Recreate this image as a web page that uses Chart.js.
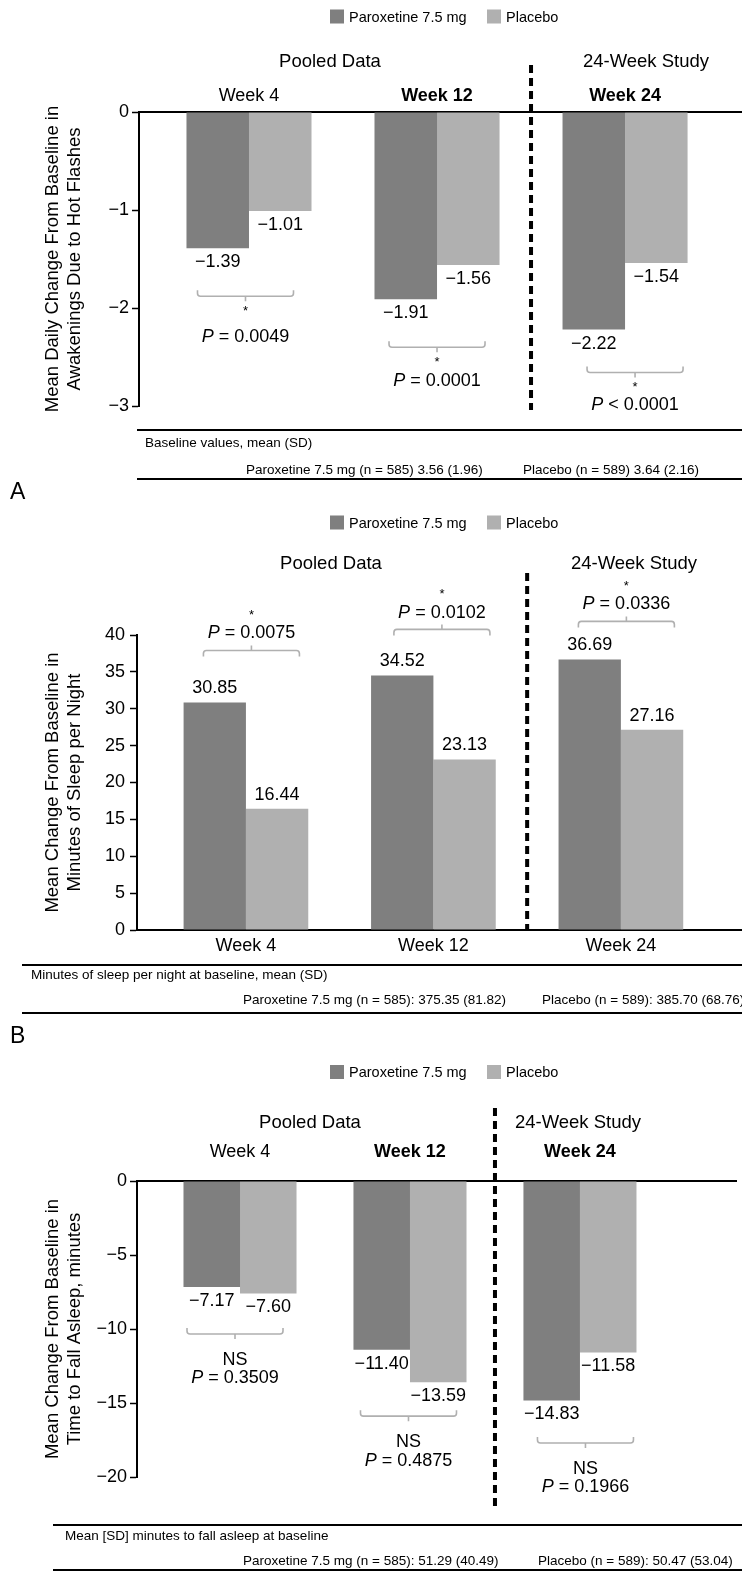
<!DOCTYPE html>
<html lang="en">
<head>
  <meta charset="UTF-8">
  <title>Paroxetine 7.5 mg vs Placebo – sleep outcomes</title>
  <style>
    body { margin: 0; background: #fff; }
    .panel { position: absolute; left: 0; width: 742px; }
    canvas { display: block; }
  </style>
</head>
<body>
<div class="panel" style="top:0"><canvas id="chartA" width="742" height="505"></canvas></div>
<div class="panel" style="top:505px"><canvas id="chartB" width="742" height="545"></canvas></div>
<div class="panel" style="top:1050px"><canvas id="chartC" width="742" height="521"></canvas></div>

<script src="https://cdn.jsdelivr.net/npm/chart.js"></script>
<script>
  // shared categories
  const weeks = ['Week 4', 'Week 12', 'Week 24'];
  const weekPos = [1, 2, 3];
  const seriesNames = ['Paroxetine 7.5 mg', 'Placebo'];

  // A - awakenings due to hot flashes
  const paroxAwake = [-1.39, -1.91, -2.22];
  const placeboAwake = [-1.01, -1.56, -1.54];
  const pAwake = ['= 0.0049', '= 0.0001', '< 0.0001'];
  const baselineAwake = ['Paroxetine 7.5 mg (n = 585) 3.56 (1.96)', 'Placebo (n = 589) 3.64 (2.16)'];

  // B - minutes of sleep per night
  const paroxSleep = [30.85, 34.52, 36.69];
  const placeboSleep = [16.44, 23.13, 27.16];
  const pSleep = ['= 0.0075', '= 0.0102', '= 0.0336'];
  const baselineSleep = ['Paroxetine 7.5 mg (n = 585): 375.35 (81.82)', 'Placebo (n = 589): 385.70 (68.76)'];

  // C - time to fall asleep
  const paroxLatency = [-7.17, -11.40, -14.83];
  const placeboLatency = [-7.60, -13.59, -11.58];
  const pLatency = ['= 0.3509', '= 0.4875', '= 0.1966'];
  const baselineLatency = ['Paroxetine 7.5 mg (n = 585): 51.29 (40.49)', 'Placebo (n = 589): 50.47 (53.04)'];

  const FONT = '"Liberation Sans", Arial, sans-serif';
  const DARK = '#7f7f7f', LIGHT = '#b0b0b0', BRACKET = '#b0b0b0';

  Chart.defaults.font.family = FONT;
  Chart.defaults.color = '#000';
  Chart.defaults.animation = false;
  Chart.defaults.plugins.legend.display = false;
  Chart.defaults.plugins.tooltip.enabled = false;

  const px = (size, style) => (style ? style + ' ' : '') + size + 'px ' + FONT;
  const fmt = v => (v < 0 ? '\u2212' + Math.abs(v).toFixed(2) : v.toFixed(2));

  // "P = 0.0049" with italic P, centred on cx
  function drawP(ctx, rest, cx, cy) {
    ctx.font = px(18, 'italic');
    const wP = ctx.measureText('P').width;
    ctx.font = px(18);
    const wR = ctx.measureText(' ' + rest).width;
    const x0 = cx - (wP + wR) / 2;
    ctx.textAlign = 'left';
    ctx.font = px(18, 'italic');
    ctx.fillText('P', x0, cy);
    ctx.font = px(18);
    ctx.fillText(' ' + rest, x0 + wP, cy);
  }

  const decor = {
    id: 'decor',
    afterDraw(chart, args, o) {
      const ctx = chart.ctx;
      const xs = chart.scales.x;
      ctx.save();
      ctx.textBaseline = 'middle';

      // legend
      [330, 487].forEach((lx, i) => {
        ctx.fillStyle = i ? LIGHT : DARK;
        ctx.fillRect(lx, o.legendY - 7, 14, 14);
        ctx.fillStyle = '#000';
        ctx.font = px(14.5);
        ctx.textAlign = 'left';
        ctx.fillText(seriesNames[i], lx + 19, o.legendY + 1);
      });

      // group headings
      ctx.font = px(18.5);
      ctx.textAlign = 'center';
      o.groups.forEach(g => ctx.fillText(g[2], g[0], g[1]));

      // separator between pooled data and 24-week study
      const sx = xs.getPixelForValue(2.5);
      ctx.strokeStyle = '#000';
      ctx.lineWidth = 4;
      ctx.setLineDash([8, 5]);
      ctx.beginPath();
      ctx.moveTo(sx, o.dashTop);
      ctx.lineTo(sx, o.dashBottom);
      ctx.stroke();
      ctx.setLineDash([]);

      // value labels
      ctx.font = px(18);
      ctx.textAlign = 'center';
      ctx.fillStyle = '#000';
      chart.data.datasets.forEach((ds, d) => {
        chart.getDatasetMeta(d).data.forEach((bar, i) => {
          const v = ds.data[i].y;
          ctx.fillText(fmt(v), bar.x, v < 0 ? bar.y + o.labelGap : bar.y - o.labelGap);
        });
      });

      // brackets + significance
      const dir = o.up ? -1 : 1;
      weekPos.forEach((wp, i) => {
        const bars = [0, 1].map(d => chart.getDatasetMeta(d).data[i]);
        const cx = xs.getPixelForValue(wp) + o.dx[i];
        const edge = o.up ? Math.min(bars[0].y, bars[1].y) : Math.max(bars[0].y, bars[1].y);
        const bl = edge + dir * o.gap[i];
        ctx.strokeStyle = BRACKET;
        ctx.lineWidth = 1.6;
        ctx.beginPath();
        ctx.moveTo(cx - 48, bl - dir * 6);
        ctx.arcTo(cx - 48, bl, cx - 44, bl, 3);
        ctx.arcTo(cx + 48, bl, cx + 48, bl - dir * 6, 3);
        ctx.lineTo(cx + 48, bl - dir * 6);
        ctx.moveTo(cx, bl);
        ctx.lineTo(cx, bl + dir * 5);
        ctx.stroke();

        ctx.fillStyle = '#000';
        ctx.textAlign = 'center';
        ctx.font = o.sig === '*' ? px(13) : px(18);
        ctx.fillText(o.sig, cx, bl + dir * o.sigDy);
        drawP(ctx, o.pvals[i], cx, bl + dir * o.pDy[i]);
      });

      // baseline table
      const t = o.table;
      ctx.strokeStyle = '#000';
      ctx.lineWidth = 2;
      [t.top, t.bottom].forEach(yy => {
        ctx.beginPath();
        ctx.moveTo(t.left, yy);
        ctx.lineTo(742, yy);
        ctx.stroke();
      });
      ctx.font = px(13.5);
      ctx.textAlign = 'left';
      ctx.fillText(t.head, t.headX, t.headY);
      t.rows.forEach((r, k) => ctx.fillText(r, t.rowX[k], t.rowY));

      if (o.letter) {
        ctx.font = px(23);
        ctx.fillText(o.letter, 10, o.letterY);
      }
      ctx.restore();
    }
  };

  function makeData(parox, placebo) {
    const common = { categoryPercentage: 0.665, barPercentage: 1, borderWidth: 0 };
    return {
      datasets: [
        Object.assign({ label: seriesNames[0], backgroundColor: DARK, data: parox.map((v, i) => ({ x: weekPos[i], y: v })) }, common),
        Object.assign({ label: seriesNames[1], backgroundColor: LIGHT, data: placebo.map((v, i) => ({ x: weekPos[i], y: v })) }, common)
      ]
    };
  }

  function xAxis(c) {
    return {
      type: 'linear', position: c.position, min: c.min, max: c.max, bounds: 'data', offset: false,
      afterBuildTicks: s => { s.ticks = weekPos.map(v => ({ value: v })); },
      ticks: {
        autoSkip: false, maxRotation: 0, padding: c.pad, color: '#000',
        callback: (v, i) => weeks[i],
        font: ctx => ({ family: FONT, size: 18, weight: c.bold && ctx.index > 0 ? 'bold' : 'normal' })
      },
      grid: { display: false, drawTicks: false, offset: false },
      border: { display: true, color: '#000', width: 2 },
      afterFit: s => { s.height = c.height; }
    };
  }

  function yAxis(c) {
    return {
      min: c.min, max: c.max,
      ticks: {
        stepSize: c.step, padding: c.pad, color: '#000', font: { size: 18 },
        callback: v => (v < 0 ? '\u2212' + Math.abs(v) : String(v))
      },
      grid: { drawOnChartArea: false, drawTicks: true, tickLength: 7, tickColor: '#000', tickWidth: 1.5 },
      border: { display: true, color: '#000', width: 2 },
      title: { display: true, text: c.title, color: '#000', font: { size: 18.5 }, padding: { top: 42, bottom: 0 } },
      afterFit: s => { s.width = c.width; }
    };
  }

  // A
  new Chart(document.getElementById('chartA'), {
    type: 'bar',
    data: makeData(paroxAwake, placeboAwake),
    plugins: [decor],
    options: {
      responsive: false,
      layout: { padding: { top: 82, bottom: 99, left: 0, right: 0 } },
      scales: {
        x: xAxis({ position: 'top', min: 0.415, max: 3.622, pad: 5, height: 30, bold: true }),
        y: yAxis({ min: -3, max: 0, step: 1, pad: 3, width: 139,
          title: ['Mean Daily Change From Baseline in', 'Awakenings Due to Hot Flashes'] })
      },
      plugins: {
        decor: {
          legendY: 16.5,
          groups: [[330, 62, 'Pooled Data'], [646, 62, '24-Week Study']],
          dashTop: 65, dashBottom: 410, labelGap: 14,
          up: false, gap: [48, 48, 43], dx: [-3.5, 0, 10],
          sig: '*', sigDy: 15, pDy: [41, 34, 32], pvals: pAwake,
          table: { top: 430, bottom: 479, left: 137, head: 'Baseline values, mean (SD)', headX: 145, headY: 443,
                   rows: baselineAwake, rowX: [246, 523], rowY: 470 },
          letter: 'A', letterY: 493
        }
      }
    }
  });

  // B
  new Chart(document.getElementById('chartB'), {
    type: 'bar',
    data: makeData(paroxSleep, placeboSleep),
    plugins: [decor],
    options: {
      responsive: false,
      layout: { padding: { top: 130, bottom: 80, left: 0, right: 0 } },
      scales: {
        x: xAxis({ position: 'bottom', min: 0.419, max: 3.646, pad: 5, height: 40, bold: false }),
        y: yAxis({ min: 0, max: 40, step: 5, pad: 5, width: 137,
          title: ['Mean Change From Baseline in', 'Minutes of Sleep per Night'] })
      },
      plugins: {
        decor: {
          legendY: 17.5,
          groups: [[331, 59, 'Pooled Data'], [634, 59, '24-Week Study']],
          dashTop: 68, dashBottom: 425, labelGap: 14,
          up: true, gap: [52, 46, 38], dx: [5.5, 8.5, 5.5],
          sig: '*', sigDy: 35, pDy: [17, 16, 17], pvals: pSleep,
          table: { top: 460, bottom: 508, left: 22, head: 'Minutes of sleep per night at baseline, mean (SD)', headX: 31, headY: 470,
                   rows: baselineSleep, rowX: [243, 542], rowY: 495 },
          letter: 'B', letterY: 532
        }
      }
    }
  });

  // C
  new Chart(document.getElementById('chartC'), {
    type: 'bar',
    data: makeData(paroxLatency, placeboLatency),
    plugins: [decor],
    options: {
      responsive: false,
      layout: { padding: { top: 91, bottom: 94, left: 0, right: 6 } },
      scales: {
        x: xAxis({ position: 'top', min: 0.394, max: 3.918, pad: 18, height: 40, bold: true }),
        y: yAxis({ min: -20, max: 0, step: 5, pad: 3, width: 137,
          title: ['Mean Change From Baseline in', 'Time to Fall Asleep, minutes'] })
      },
      plugins: {
        decor: {
          legendY: 22,
          groups: [[310, 73, 'Pooled Data'], [578, 73, '24-Week Study']],
          dashTop: 58, dashBottom: 460, labelGap: 14,
          up: false, gap: [40.5, 34, 42.5], dx: [-5, -1.5, 5.5],
          sig: 'NS', sigDy: 26, pDy: [44, 45, 44], pvals: pLatency,
          table: { top: 475, bottom: 520, left: 53, head: 'Mean [SD] minutes to fall asleep at baseline', headX: 65, headY: 486,
                   rows: baselineLatency, rowX: [243, 538], rowY: 511 },
          letter: null
        }
      }
    }
  });
</script>
</body>
</html>
